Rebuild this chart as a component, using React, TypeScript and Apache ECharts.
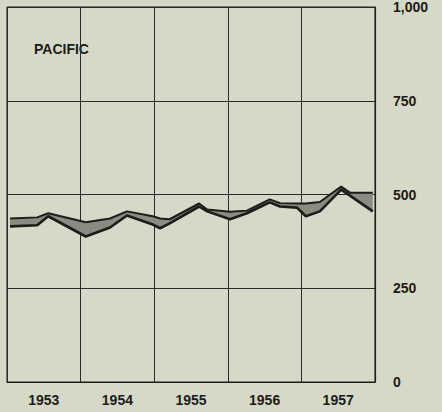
import React, { useEffect, useRef } from "react";
import * as echarts from "echarts";

const years = ["1953", "1954", "1955", "1956", "1957"];
const yTicks = [0, 250, 500, 750, 1000];
// positions along time, in fractional years
const timePoints = [
  1953.04, 1953.41, 1953.56, 1954.07, 1954.4, 1954.63, 1954.98, 1955.08, 1955.21,
  1955.61, 1955.72, 1956.03, 1956.26, 1956.57, 1956.71, 1956.94, 1957.06, 1957.25,
  1957.54, 1957.66, 1957.97,
];
const upperSeries = [
  436, 439, 450, 426, 436, 455, 442, 436, 434, 476, 460, 454, 457, 487, 477, 476, 476, 480,
  521, 505, 505,
];
const lowerSeries = [
  415, 418, 442, 388, 412, 444, 420, 410, 423, 468, 455, 434, 450, 479, 468, 465, 442, 455,
  513, 497, 455,
];
const regionLabel = "PACIFIC";

const BG = "#d6d9c8";
const INK = "#1c1c1a";
const FONT = "Liberation Sans";

export default function App() {
  const ref = useRef<HTMLDivElement>(null);
  useEffect(() => {
    document.body.style.margin = "0";
    document.body.style.background = BG;
    const chart = echarts.init(ref.current!, undefined, { renderer: "svg" });
    const lowerData = timePoints.map((t, i) => [t, lowerSeries[i]]);
    const upperData = timePoints.map((t, i) => [t, upperSeries[i]]);
    const bandData = timePoints.map((t, i) => [t, lowerSeries[i], upperSeries[i]]);
    chart.setOption({
      animation: false,
      backgroundColor: BG,
      grid: {
        left: 7,
        right: 67,
        top: 6,
        bottom: 30,
        show: true,
        borderColor: INK,
        borderWidth: 1,
      },
      xAxis: [
        {
          type: "category",
          data: years,
          boundaryGap: true,
          position: "bottom",
          axisLine: { show: true, lineStyle: { color: INK, width: 1.2 } },
          axisTick: { show: false },
          splitLine: { show: true, lineStyle: { color: "#2a2a28", width: 1 } },
          axisLabel: {
            color: INK,
            fontFamily: FONT,
            fontWeight: "bold",
            fontSize: 14,
            margin: 11,
            interval: 0,
          },
        },
        {
          type: "value",
          min: 1953,
          max: 1958,
          show: false,
        },
      ],
      yAxis: {
        type: "value",
        min: 0,
        max: 1000,
        interval: 250,
        position: "right",
        axisLine: { show: true, lineStyle: { color: INK, width: 1.2 } },
        axisTick: { show: false },
        splitLine: { show: true, lineStyle: { color: "#2a2a28", width: 1 } },
        axisLabel: {
          color: INK,
          fontFamily: FONT,
          fontWeight: "bold",
          fontSize: 14,
          margin: 18,
          align: "left",
          formatter: (v: number) => (yTicks.includes(v) ? v.toLocaleString("en-US") : ""),
        },
      },
      graphic: [
        {
          type: "text",
          left: 34,
          top: 42,
          style: {
            text: regionLabel,
            fill: INK,
            font: `bold 14px "${FONT}"`,
          },
        },
      ],
      series: [
        {
          name: "band",
          type: "custom",
          xAxisIndex: 1,
          z: 1,
          silent: true,
          data: bandData,
          encode: { x: 0, y: [1, 2] },
          renderItem: (params: any, api: any) => {
            if (params.dataIndex !== 0) return null;
            const top = bandData.map((d) => api.coord([d[0], d[2]]));
            const bottom = bandData
              .slice()
              .reverse()
              .map((d) => api.coord([d[0], d[1]]));
            return {
              type: "polygon",
              shape: { points: top.concat(bottom) },
              style: { fill: "#8a8c82", stroke: "none" },
            };
          },
        },
        {
          name: "upper",
          type: "line",
          xAxisIndex: 1,
          z: 3,
          data: upperData,
          symbol: "none",
          lineStyle: { color: INK, width: 2 },
        },
        {
          name: "lower",
          type: "line",
          xAxisIndex: 1,
          z: 3,
          data: lowerData,
          symbol: "none",
          lineStyle: { color: INK, width: 2.6 },
        },
      ],
    });
    return () => chart.dispose();
  }, []);
  return (
    <div
      ref={ref}
      style={{ position: "absolute", left: 0, top: 0, width: 442, height: 412, background: BG }}
    />
  );
}
